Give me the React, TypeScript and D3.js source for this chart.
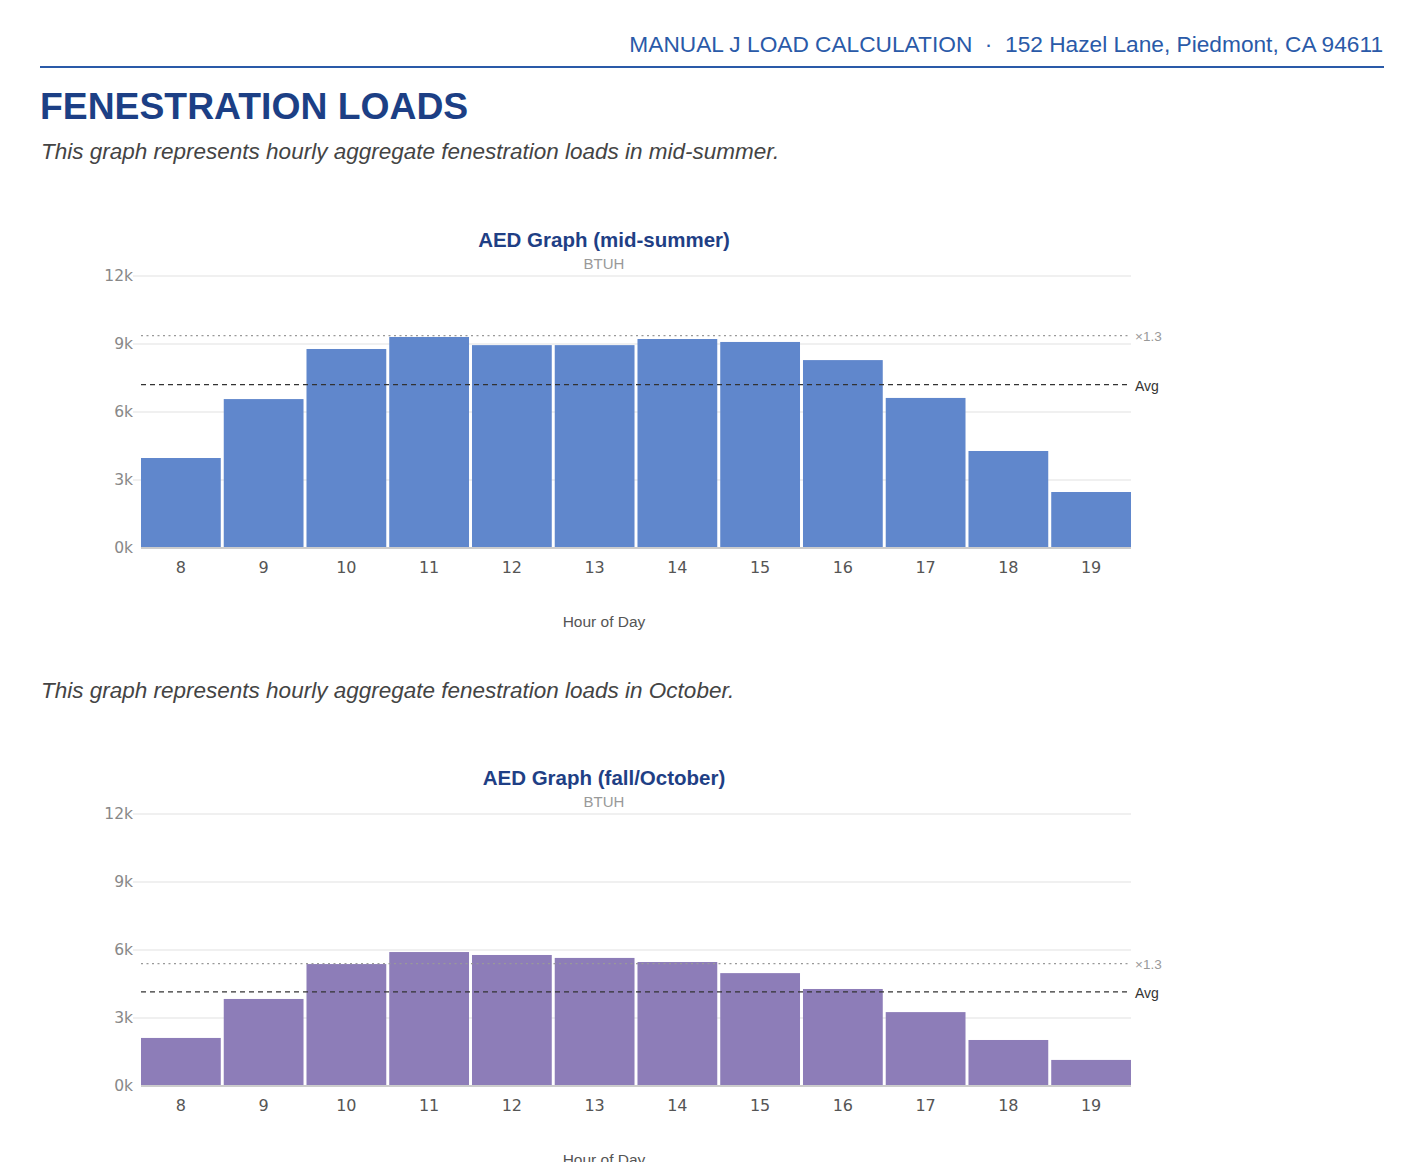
import React from "react";
import * as d3 from "d3";

const hours = [8, 9, 10, 11, 12, 13, 14, 15, 16, 17, 18, 19];
const summerLoads = [3970, 6570, 8780, 9310, 8950, 8950, 9220, 9090, 8290, 6620, 4280, 2470];
const octoberLoads = [2120, 3840, 5380, 5910, 5780, 5650, 5470, 4980, 4280, 3260, 2030, 1150];
const yTicks = [0, 3000, 6000, 9000, 12000];

const W = 1410,
  H = 1162;
const plotLeft = 141,
  plotRight = 1131;

const headFont = "'Liberation Sans', Arial, sans-serif";
const tickFont = "'DejaVu Sans', Verdana, sans-serif";

type ChartProps = {
  title: string;
  values: number[];
  color: string;
  top: number; // y of the 12k line
};

const Chart = ({ title, values, color, top }: ChartProps) => {
  const bottom = top + 272;
  const x = d3
    .scaleBand<string>()
    .domain(hours.map(String))
    .range([plotLeft, plotRight])
    .paddingInner(0.036)
    .paddingOuter(0);
  const y = d3.scaleLinear().domain([0, 12000]).range([bottom, top]);
  const avg = d3.mean(values) ?? 0;
  const centre = 604;

  return (
    <g>
      <text
        x={centre}
        y={top - 29}
        textAnchor="middle"
        fontFamily={headFont}
        fontWeight="bold"
        fontSize={20.5}
        fill="#1f3f85"
      >
        {title}
      </text>
      <text
        x={centre}
        y={top - 7}
        textAnchor="middle"
        fontFamily={headFont}
        fontSize={15}
        fill="#999"
      >
        BTUH
      </text>

      {yTicks.map((t) => (
        <g key={t}>
          {t > 0 && (
            <line
              x1={plotLeft - 8}
              x2={plotRight}
              y1={y(t)}
              y2={y(t)}
              stroke="#ebebeb"
              strokeWidth={1.5}
            />
          )}
          <text
            x={plotLeft - 8}
            y={y(t)}
            dy="0.35em"
            textAnchor="end"
            fontFamily={tickFont}
            fontSize={15.5}
            fill="#888"
          >
            {`${t / 1000}k`}
          </text>
        </g>
      ))}

      {values.map((v, i) => (
        <rect
          key={hours[i]}
          x={x(String(hours[i]))}
          y={y(v)}
          width={x.bandwidth()}
          height={y(0) - y(v)}
          fill={color}
        />
      ))}

      <line
        x1={plotLeft}
        x2={plotRight}
        y1={y(0)}
        y2={y(0)}
        stroke="#cccccc"
        strokeWidth={2}
      />

      <line
        x1={plotLeft}
        x2={plotRight}
        y1={y(avg * 1.3)}
        y2={y(avg * 1.3)}
        stroke="#999"
        strokeWidth={1.2}
        strokeDasharray="2,3.5"
      />
      <text
        x={plotRight + 4}
        y={y(avg * 1.3)}
        dy="0.4em"
        fontFamily={headFont}
        fontSize={13.5}
        fill="#999"
      >
        ×1.3
      </text>
      <line
        x1={plotLeft}
        x2={plotRight}
        y1={y(avg)}
        y2={y(avg)}
        stroke="#333"
        strokeWidth={1.4}
        strokeDasharray="5,4"
      />
      <text
        x={plotRight + 4}
        y={y(avg)}
        dy="0.45em"
        fontFamily={headFont}
        fontSize={14}
        fill="#333"
      >
        Avg
      </text>

      {hours.map((h) => (
        <text
          key={h}
          x={(x(String(h)) ?? 0) + x.bandwidth() / 2}
          y={bottom + 25}
          textAnchor="middle"
          fontFamily={tickFont}
          fontSize={16}
          fill="#555"
        >
          {h}
        </text>
      ))}

      <text
        x={centre}
        y={bottom + 79}
        textAnchor="middle"
        fontFamily={headFont}
        fontSize={15.5}
        fill="#555"
      >
        Hour of Day
      </text>
    </g>
  );
};

const App = () => {
  return (
    <svg
      width={W}
      height={H}
      style={{ position: "absolute", left: 0, top: 0, background: "#fff" }}
    >
      <text
        x={1383}
        y={52}
        textAnchor="end"
        fontFamily={headFont}
        fontSize={22.7}
        fill="#2a5aa8"
      >
        {"MANUAL J LOAD CALCULATION\u00a0\u00a0·\u00a0\u00a0152 Hazel Lane, Piedmont, CA 94611"}
      </text>
      <line x1={40} x2={1384} y1={67} y2={67} stroke="#2a5aa8" strokeWidth={2} />

      <text
        x={40}
        y={119}
        fontFamily={headFont}
        fontWeight="bold"
        fontSize={37.3}
        fill="#1c3f85"
      >
        FENESTRATION LOADS
      </text>
      <text
        x={41}
        y={159}
        fontFamily={headFont}
        fontStyle="italic"
        fontSize={22.5}
        fill="#444"
      >
        This graph represents hourly aggregate fenestration loads in mid-summer.
      </text>

      <Chart title="AED Graph (mid-summer)" values={summerLoads} color="#6087cc" top={276} />

      <text
        x={41}
        y={698}
        fontFamily={headFont}
        fontStyle="italic"
        fontSize={22.5}
        fill="#444"
      >
        This graph represents hourly aggregate fenestration loads in October.
      </text>

      <Chart title="AED Graph (fall/October)" values={octoberLoads} color="#8d7db8" top={814} />
    </svg>
  );
};

export default App;
